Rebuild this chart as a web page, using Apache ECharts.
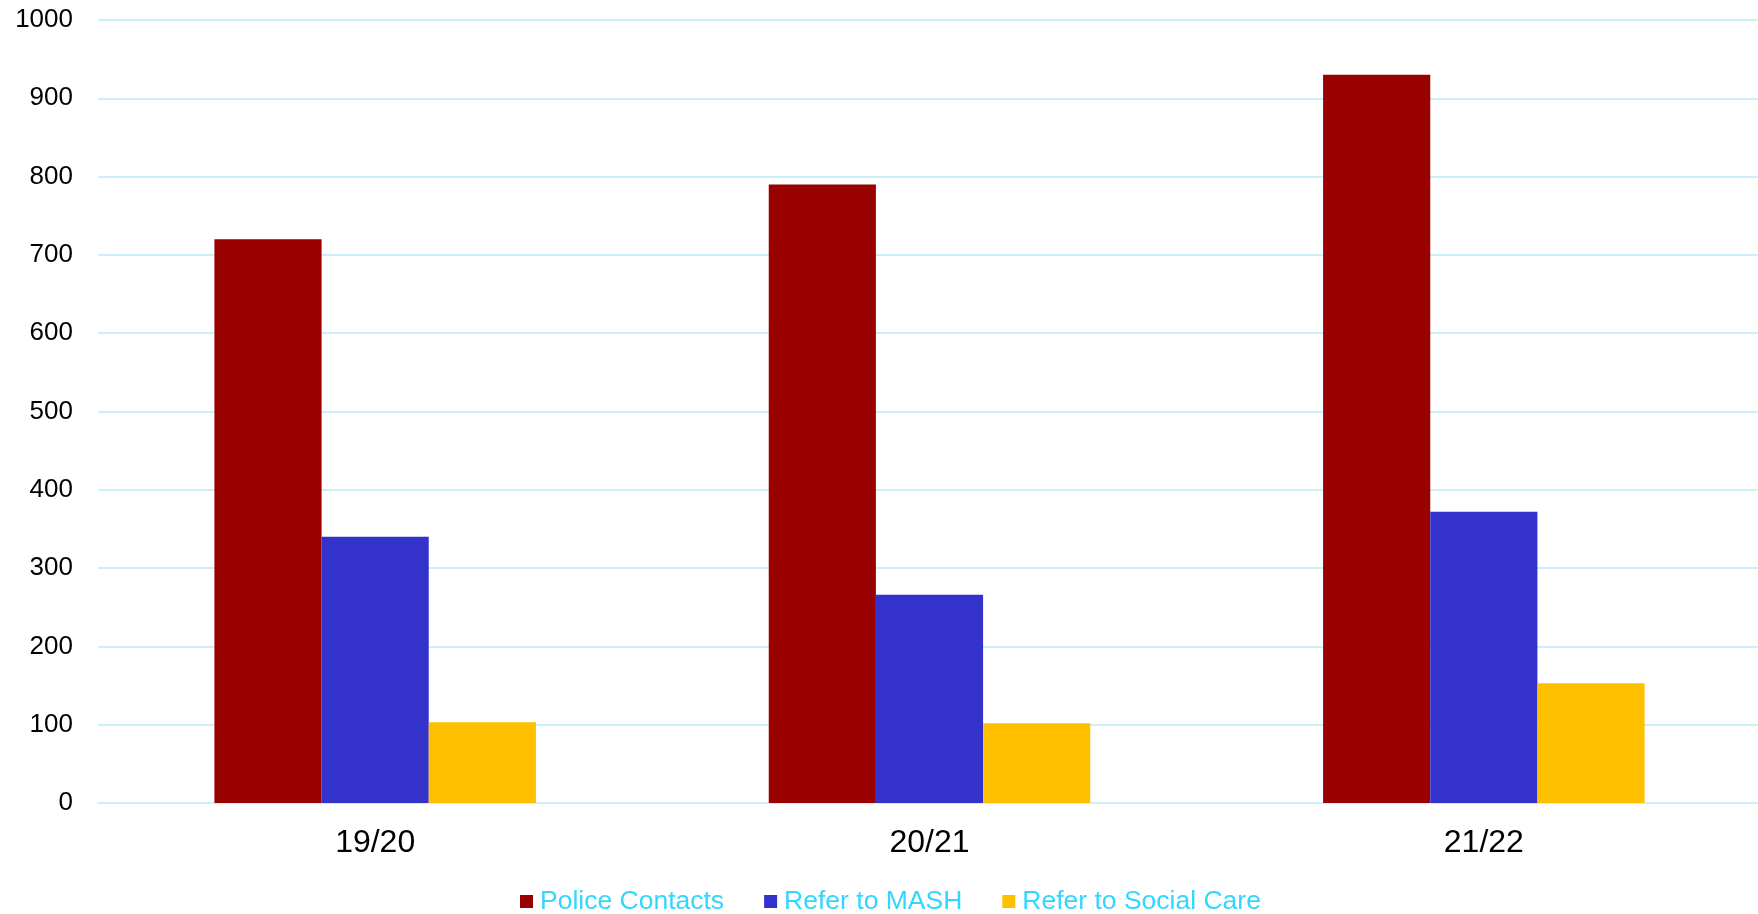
<!DOCTYPE html>
<html>
<head>
<meta charset="utf-8">
<script src="https://cdn.jsdelivr.net/npm/echarts@6/dist/echarts.min.js"></script>
<style>
html,body{margin:0;padding:0;background:#fff;overflow:hidden;}
#chart{width:1761px;height:914px;}
</style>
</head>
<body>
<div id="chart"></div>
<script>
const categories = ['19/20', '20/21', '21/22'];
const policeContacts = [720, 790, 930];
const referToMash = [340, 266, 372];
const referToSocialCare = [103, 102, 153];

const chart = echarts.init(document.getElementById('chart'));
const font = 'Liberation Sans, Arial, sans-serif';
chart.setOption({
  animation: false,
  backgroundColor: '#ffffff',
  grid: { left: 98, right: 0, top: 20, bottom: 111, containLabel: false },
  legend: {
    data: ['Police Contacts', 'Refer to MASH', 'Refer to Social Care'],
    left: 515,
    top: 883,
    icon: 'rect',
    itemWidth: 13,
    itemHeight: 13,
    itemGap: 40,
    textStyle: { color: '#33D6FF', fontSize: 26.5, fontFamily: font, padding: [0, 0, 0, 2] }
  },
  xAxis: {
    type: 'category',
    data: categories,
    axisLine: { show: true, lineStyle: { color: '#CCF0FA', width: 2 } },
    axisTick: { show: false },
    axisLabel: { color: '#000', fontSize: 32, fontFamily: font, margin: 24 }
  },
  yAxis: {
    type: 'value',
    min: 0,
    max: 1000,
    interval: 100,
    axisLine: { show: false },
    axisTick: { show: false },
    axisLabel: { color: '#000', fontSize: 26, fontFamily: font, margin: 25, formatter: function (v) { return String(v); } },
    splitLine: { lineStyle: { color: '#CCF0FA', width: 2 } }
  },
  series: [
    { name: 'Police Contacts', type: 'bar', data: policeContacts, itemStyle: { color: '#990000' }, barGap: '0%', barCategoryGap: '42%' },
    { name: 'Refer to MASH', type: 'bar', data: referToMash, itemStyle: { color: '#3333CC' } },
    { name: 'Refer to Social Care', type: 'bar', data: referToSocialCare, itemStyle: { color: '#FFC000' } }
  ]
});
</script>
</body>
</html>
